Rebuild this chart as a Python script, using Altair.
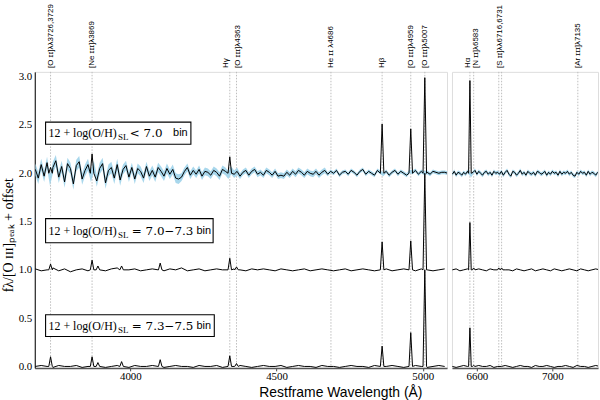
import altair as alt
import numpy as np
import pandas as pd

# ---------------- data ----------------
# wavelength grids (Angstrom): first sample and spacing
L_START, R_START = 3675, 6470
FINE_STEP, COARSE_STEP = 10, 20

# continuum deviations (hundredths of the [O III] peak)
TOP_L = [4, -5, 9, -3, 11, -7, 6, 13, -4, 7, -9, 10, 5, -11, 8, 12, -6, 3, 9, -3,
         7, -8, 5, 10, -10, 3, 6, -5, 9, -7, 4, 8, -4, 6, -6, 5, 2, -5, 7, -3,
         3, -4, 6, 2, -3, 5, -1, 4, -5, -6, -4, 2, 6, -2, 3, -1, 4, -3, 2, 1,
         -2, 3, 1, -3, 4, 2, -2, 3, -1, 2, -3, 1, 3, -2, 2, 4, -1, 1, -2, 3,
         1, -2, 2, -3, -2, -3, 1, -2, 2, -1, 3, 1, -2, 2, 0, -1, 2, -2, 1, 3,
         -1, 2, 0, 3, -2, 1, 2, -1, 3, 1, -2, 2, 4, -1, 2, 0, -2, 3, 1, -1,
         2, -2, 1, 3, -1, 2, 0, -2, 2, 1, 3, -1, 2, 0, 1, -1, 2, 1, 0, 1,
         1, 0]
TOP_R = [-1, 2, -2, 1, 0, -2, 1, -1, 2, 0, -2, 1, 3, -1, 2, 0, -2, 1, 2, -1,
         1, -2, 2, 0, 1, -1, 2, -2, 1, 3, -1, -3, 2, 1, -2, 0, 3, -1, 1, -2,
         2, 0, -1, 1, -2, 2, 1, -1, 0, 2, -2, 1, -1, 2, 0, 1, -2, 2, -1, 1,
         0, 2, -1, 1, -2, -3, 1, -1, 2, 0, 1, -2, 2, -1, 1, 0, -2, 1]
MID_L = [1, -1, 0, 2, -1, 1, -2, 0, 1, -1, 1, 0, -1, 1, 2, -1, 0, 1, -1, 0,
         1, 0, -1, 1, 0, 2, -1, 0, 1, -1, 0, 1, 0, -1, 1, 0, -1, 1, 0, 1,
         0, -1, 1, 0, -1, 0, 1, -1, 0, 1, 0, -1, 0, 1, -1, 0, 1, 0, -1, 0,
         1, -1, 0, 1, 0, -1, 1, 0, -1, 0, 1]
MID_R = [0, 1, -1, 0, 1, -1, 0, 1, 0, -1, 1, 0, -1, 1, 0, 0, -1, 1, 0, -1,
         0, 1, -1, 0, 1, 0, -1, 1, 0, -1, 0, 1, 0, -1, 1, 0, -1, 0, 1, 0]
BOT_L = [0, 1, 0, -1, 1, 0, 0, 1, -1, 0, 1, 0, -1, 0, 1, 0, -1, 1, 0, 0,
         1, 0, -1, 0, 1, 0, 0, -1, 1, 0, 0, 1, -1, 0, 0, 1, 0, -1, 0, 1,
         0, 0, 1, -1, 0, 1, 0, 0, -1, 1, 0, 0, -1, 0, 1, 0, 0, -1, 1, 0,
         0, 1, 0, -1, 0, 1, 0, -1, 0, 1, 0]
BOT_R = [0, -1, 0, 1, 0, 0, -1, 1, 0, 0, 1, -1, 0, 0, 1, 0, -1, 0, 1, 0,
         0, -1, 1, 0, 0, 1, 0, -1, 0, 0, 1, 0, -1, 1, 0, 0, -1, 0, 1, 0]
# 1-sigma error of the top spectrum (hundredths), per 100 A block from L_START / R_START
TOP_ERR_L = [6, 6, 6, 5, 5, 4, 4, 3, 3, 3, 2, 2, 2, 2, 2]
TOP_ERR_R = [2, 2, 2, 2, 2, 2, 2, 2]

OFFSETS = [2.0, 1.0, 0.0]
LINE_WL = [3727, 3869, 3889, 3970, 4102, 4340, 4363, 4861, 4959, 5007, 6563, 6583, 6716, 6731]
TOP_PEAK = [0.06, 0.20, 0.00, 0.00, 0.00, 0.17, 0.00, 0.51, 0.46, 0.99, 0.96, 0.00, 0.00, 0.00]
MID_PEAK = [0.06, 0.10, 0.04, 0.04, 0.07, 0.12, 0.03, 0.29, 0.30, 1.00, 0.49, 0.02, 0.02, 0.02]
BOT_PEAK = [0.10, 0.10, 0.04, 0.05, 0.07, 0.11, 0.03, 0.21, 0.35, 1.00, 0.40, 0.01, 0.00, 0.00]

BIN_MATH = ["< 7.0", "= 7.0\u22127.3", "= 7.3\u22127.5"]

LEFT_LINES = [3727, 3869, 4340, 4363, 4686, 4861, 4959, 5007]
RIGHT_LINES = [6563, 6583, 6716, 6731, 7135]
LEFT_LABELS = ["[O \u026a\u026a]\u03bb\u03bb3726,3729", "[Ne \u026a\u026a\u026a]\u03bb3869", "H\u03b3",
               "[O \u026a\u026a\u026a]\u03bb4363", "He \u026a\u026a \u03bb4686", "H\u03b2",
               "[O \u026a\u026a\u026a]\u03bb4959", "[O \u026a\u026a\u026a]\u03bb5007"]
LEFT_LABEL_WL = [3727, 3869, 4328, 4368, 4686, 4861, 4959, 5007]
RIGHT_LABELS = ["H\u03b1", "[N \u026a\u026a]\u03bb6583", "[S \u026a\u026a]\u03bb\u03bb6716,6731", "[Ar \u026a\u026a\u026a]\u03bb7135"]
RIGHT_LABEL_WL = [6552, 6598, 6724, 7135]

L_DOMAIN = [3673, 5083]
R_DOMAIN = [6468, 7242]
Y_DOMAIN = [-0.015, 3.05]


def spectrum(name, offset, start, step, noise, peaks, lo, hi, half):
    lam = start + step * np.arange(len(noise))
    flux = offset + np.asarray(noise) / 100.0
    centers = [(w, p) for w, p in zip(LINE_WL, peaks) if p > 0 and lo <= w <= hi]
    rows = [(float(l), float(f)) for l, f in zip(lam, flux)
            if all(abs(l - w) > half for w, _ in centers)]
    for w, p in centers:
        rows += [(w - half, offset), (w, offset + p), (w + half, offset)]
    rows.sort()
    return pd.DataFrame({"lam": [r[0] for r in rows], "flux": [r[1] for r in rows], "spec": name})


def band(start, noise, errs, offset):
    lam = start + FINE_STEP * np.arange(len(noise))
    flux = offset + np.asarray(noise) / 100.0
    err = np.array([errs[min(int((l - start) // 100), len(errs) - 1)] for l in lam]) / 100.0
    return pd.DataFrame({"lam": lam, "flux": flux - err, "hi": flux + err})


left_spec = pd.concat([
    spectrum("top", OFFSETS[0], L_START, FINE_STEP, TOP_L, TOP_PEAK, *L_DOMAIN, 6),
    spectrum("mid", OFFSETS[1], L_START, COARSE_STEP, MID_L, MID_PEAK, *L_DOMAIN, 6),
    spectrum("bot", OFFSETS[2], L_START, COARSE_STEP, BOT_L, BOT_PEAK, *L_DOMAIN, 6),
])
right_spec = pd.concat([
    spectrum("top", OFFSETS[0], R_START, FINE_STEP, TOP_R, TOP_PEAK, *R_DOMAIN, 7),
    spectrum("mid", OFFSETS[1], R_START, COARSE_STEP, MID_R, MID_PEAK, *R_DOMAIN, 7),
    spectrum("bot", OFFSETS[2], R_START, COARSE_STEP, BOT_R, BOT_PEAK, *R_DOMAIN, 7),
])
left_band = band(L_START, TOP_L, TOP_ERR_L, OFFSETS[0])
right_band = band(R_START, TOP_R, TOP_ERR_R, OFFSETS[0])

# annotation boxes (data units)
boxes = pd.DataFrame({
    "lam": [3710, 3710, 3710], "x2": [4207, 4283, 4287],
    "flux": [2.30, 1.28, 0.31], "y2": [2.53, 1.53, 0.535],
})
box_text = pd.DataFrame({
    "flux": [2.415, 1.405, 0.42],
    "math": BIN_MATH,
    "xb": [3998, 4005, 4005],
    "xbin": [4146, 4226, 4226],
})

SERIF = "Liberation Serif"
SANS = "Liberation Sans"

# ---------------- chart ----------------
yscale = alt.Scale(domain=Y_DOMAIN, nice=False, zero=False)
Y_AXIS_LEFT = alt.Axis(values=[0, 0.5, 1.0, 1.5, 2.0, 2.5, 3.0], format=".1f",
                       title="f\u03bb/[O \u026a\u026a\u026a]\u209a\u2091\u2090\u2096 + offset",
                       titleFont=SERIF, titleFontSize=14, titleFontWeight="normal",
                       titleColor="black", titlePadding=3, titleY=164, titleAlign="center",
                       labelFont=SERIF,
                       labelFontSize=11, labelColor="black", ticks=False,
                       labelPadding=3, domainColor="black", domainWidth=1, grid=False)


def panel(spec_df, band_df, rule_wl, lab, lab_wl, domain, ticks, width, yaxis, left):
    xs = alt.Scale(domain=domain, nice=False, zero=False)
    xa = alt.Axis(values=ticks, title=None, format="d", labelFont=SERIF,
                  labelFontSize=11, labelColor="black", tickSize=3,
                  tickColor="#444", labelPadding=0, domainColor="#555",
                  domainWidth=1.5, grid=False)

    def X(field):
        return alt.X(field, scale=xs, axis=xa)

    def Y(field):
        return alt.Y(field, scale=yscale, axis=yaxis)

    rules = alt.Chart(pd.DataFrame({"lam": rule_wl})).mark_rule(
        color="#bdbdbd", strokeDash=[1.5, 1.5], strokeWidth=1).encode(x=X("lam:Q"))
    area = alt.Chart(band_df).mark_area(color="#9fd3ea", opacity=0.9, clip=True).encode(
        x=X("lam:Q"), y=Y("flux:Q"), y2="hi:Q")
    line = alt.Chart(spec_df).mark_line(color="black", strokeWidth=1, clip=True).encode(
        x=X("lam:Q"), y=Y("flux:Q"), detail="spec:N")
    labels = alt.Chart(pd.DataFrame({"lam": lab_wl, "txt": lab, "flux": 3.09})).mark_text(
        angle=270, align="left", baseline="middle", font=SANS, fontSize=8, color="black"
    ).encode(x=X("lam:Q"), y=Y("flux:Q"), text="txt:N")
    layers = [rules, area, line, labels]
    if left:
        rect = alt.Chart(boxes).mark_rect(fill="white", stroke="black", strokeWidth=1.1).encode(
            x=X("lam:Q"), x2="x2:Q", y=Y("flux:Q"), y2="y2:Q")
        ta = alt.Chart(box_text).mark_text(align="left", baseline="middle", font=SERIF,
                                           fontSize=12, color="black").encode(
            x=alt.datum(3720), y=Y("flux:Q"), text=alt.value("12 + log(O/H)"))
        tsub = alt.Chart(box_text).mark_text(align="left", baseline="middle", font=SERIF,
                                             fontSize=9, dy=4, color="black").encode(
            x=alt.datum(3958), y=Y("flux:Q"), text=alt.value("SL"))
        tb = alt.Chart(box_text).mark_text(align="left", baseline="middle", font="DejaVu Serif",
                                           fontSize=12, color="black").encode(
            x=X("xb:Q"), y=Y("flux:Q"), text="math:N")
        tc = alt.Chart(box_text).mark_text(align="left", baseline="middle", font=SANS,
                                           fontSize=11, color="black").encode(
            x=X("xbin:Q"), y=Y("flux:Q"), text=alt.value("bin"))
        xt = alt.Chart(pd.DataFrame({"lam": [4720], "flux": [-0.28]})).mark_text(
            align="center", baseline="middle", font=SANS, fontSize=14, color="black").encode(
            x=X("lam:Q"), y=Y("flux:Q"), text=alt.value("Restframe Wavelength (\u00c5)"))
        layers += [rect, ta, tsub, tb, tc, xt]
    return alt.layer(*layers).properties(width=width, height=298)


left = panel(left_spec, left_band, LEFT_LINES, LEFT_LABELS, LEFT_LABEL_WL,
             L_DOMAIN, [4000, 4500, 5000], 415, Y_AXIS_LEFT, True)
right = panel(right_spec, right_band, RIGHT_LINES, RIGHT_LABELS, RIGHT_LABEL_WL,
              R_DOMAIN, [6600, 7000], 147, None, False)

chart = alt.hconcat(left, right, spacing=5, bounds="flush").properties(
    padding={"left": 0, "top": 2, "right": 1, "bottom": 0}
).configure_view(stroke="#999999", strokeWidth=2).configure(background="white")

chart.save("out.html", embed_options={"renderer": "svg", "actions": False})
